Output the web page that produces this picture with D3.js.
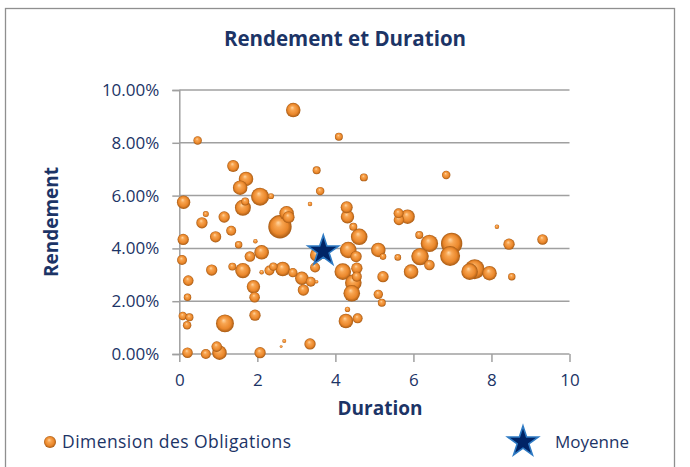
<!DOCTYPE html>
<html>
<head>
<meta charset="utf-8">
<script src="https://cdn.jsdelivr.net/npm/d3@7"></script>
<style>
  body { margin: 0; background: #fff; }
  text { font-family: "Open Sans", "Noto Sans", sans-serif; fill: #1c3466; }
</style>
</head>
<body>
<div id="chart"></div>
<script>
// --- Data ---
// duration (years), rendement (%), taille (bubble size, area-proportional)
const durations = [
  2.92, 0.47, 1.38, 1.71, 1.56, 2.07, 2.35, 0.11, 1.63, 1.69,
  0.68, 1.15, 2.75, 2.80, 0.58, 2.58, 1.33, 0.93, 0.10, 1.52,
  1.95, 2.11, 1.81, 0.07, 0.83, 1.36, 1.63, 2.11, 2.31, 2.41,
  2.65, 2.91, 3.14, 3.18, 1.90, 1.93, 0.23, 0.21, 0.09, 0.26,
  0.20, 1.17, 1.94, 2.69, 2.61, 3.35, 0.21, 0.68, 0.96, 1.03,
  2.07, 4.09, 3.52, 4.73, 3.61, 3.35, 4.29, 4.31, 5.62, 5.85,
  5.63, 4.46, 4.61, 6.15, 6.41, 3.52, 4.33, 4.53, 5.10, 5.22,
  5.60, 6.17, 6.41, 3.48, 4.19, 4.55, 4.55, 5.94, 3.37, 3.52,
  4.46, 4.42, 5.22, 5.10, 5.19, 4.31, 4.27, 4.57, 6.98, 6.94,
  8.14, 8.45, 9.31, 7.44, 7.57, 7.95, 8.52, 6.84
];
const rendements = [
  9.24, 8.09, 7.12, 6.63, 6.30, 5.96, 5.98, 5.75, 5.54, 5.78,
  5.30, 5.19, 5.33, 5.18, 4.97, 4.82, 4.67, 4.44, 4.34, 4.14,
  4.27, 3.85, 3.69, 3.56, 3.18, 3.31, 3.16, 3.10, 3.16, 3.31,
  3.22, 3.08, 2.87, 2.42, 2.55, 2.15, 2.78, 2.15, 1.44, 1.39,
  1.09, 1.16, 1.47, 0.49, 0.28, 0.38, 0.05, 0.00, 0.28, 0.05,
  0.05, 8.23, 6.96, 6.69, 6.17, 5.68, 5.56, 5.20, 5.33, 5.20,
  5.08, 4.82, 4.44, 4.51, 4.19, 3.75, 3.94, 3.69, 3.94, 3.69,
  3.66, 3.69, 3.37, 3.28, 3.12, 3.25, 2.93, 3.12, 2.74, 2.74,
  2.70, 2.30, 2.93, 2.26, 1.94, 1.69, 1.25, 1.35, 4.19, 3.71,
  4.82, 4.16, 4.34, 3.12, 3.21, 3.06, 2.93, 6.78
];
const tailles = [
  53, 18, 36, 53, 53, 81, 9, 45, 64, 16,
  9, 32, 53, 36, 32, 137, 25, 32, 32, 14,
  5, 53, 28, 25, 32, 16, 59, 5, 25, 18,
  53, 22, 45, 32, 45, 28, 28, 14, 18, 16,
  18, 81, 32, 4, 2, 32, 28, 25, 28, 53,
  32, 16, 16, 16, 18, 5, 36, 45, 25, 53,
  28, 16, 69, 16, 76, 45, 69, 32, 53, 11,
  11, 76, 28, 25, 69, 32, 25, 53, 25, 3,
  69, 69, 32, 22, 16, 7, 53, 25, 114, 100,
  5, 32, 28, 69, 100, 53, 14, 18
];

// Average point (Moyenne)
const moyenne = { duration: 3.69, rendement: 3.90 };

const xTicks = [0, 2, 4, 6, 8, 10];
const yTicks = [0, 2, 4, 6, 8, 10];

const bonds = durations.map((d, i) => ({
  duration: d,
  rendement: rendements[i],
  taille: tailles[i]
}));

// --- SVG setup ---
const W = 690, H = 467;
const plot = { left: 179.3, right: 569.5, top: 90, bottom: 354 };

const svg = d3.select("#chart")
  .append("svg")
  .attr("width", W)
  .attr("height", H);

svg.append("rect")
  .attr("x", 5.5).attr("y", 8.5)
  .attr("width", 669).attr("height", 480)
  .attr("fill", "#fff")
  .attr("stroke", "#8f8f8f")
  .attr("stroke-width", 1.3);

// Sphere-like gradient for the bubbles
const defs = svg.append("defs");
const grad = defs.append("radialGradient")
  .attr("id", "sphere")
  .attr("cx", "50%").attr("cy", "50%").attr("r", "50%")
  .attr("fx", "42%").attr("fy", "32%");
grad.append("stop").attr("offset", "0%").attr("stop-color", "#ffd6a3");
grad.append("stop").attr("offset", "30%").attr("stop-color", "#f8a551");
grad.append("stop").attr("offset", "72%").attr("stop-color", "#ea872b");
grad.append("stop").attr("offset", "100%").attr("stop-color", "#a65a14");

// --- Scales ---
const xScale = d3.scaleLinear().domain([0, 10]).range([plot.left, plot.right]);
const yScale = d3.scaleLinear().domain([0, 10]).range([plot.bottom, plot.top]);
const rScale = d3.scaleSqrt().domain([0, 140]).range([0, 11.8]);

// --- Gridlines + y axis ---
const yAxis = d3.axisLeft(yScale)
  .tickValues(yTicks)
  .tickSize(7)
  .tickPadding(13)
  .tickFormat(d => d.toFixed(2) + "%");

const yG = svg.append("g")
  .attr("transform", `translate(${plot.left},0)`)
  .call(yAxis);
yG.select(".domain").attr("stroke", "#a0a0a0").attr("stroke-width", 1.5);
yG.selectAll(".tick line").attr("stroke", "#a0a0a0").attr("stroke-width", 1.5);
yG.selectAll(".tick text")
  .style("font-size", "17px")
  .attr("fill", "#1c3466");

svg.append("g")
  .selectAll("line")
  .data(yTicks)
  .join("line")
  .attr("x1", plot.left)
  .attr("x2", plot.right)
  .attr("y1", d => yScale(d))
  .attr("y2", d => yScale(d))
  .attr("stroke", "#a0a0a0")
  .attr("stroke-width", 1.5);

// --- x axis ---
const xAxis = d3.axisBottom(xScale)
  .tickValues(xTicks)
  .tickSize(8)
  .tickPadding(12)
  .tickFormat(d3.format("d"));

const xG = svg.append("g")
  .attr("transform", `translate(0,${plot.bottom})`)
  .call(xAxis);
xG.select(".domain").remove();
xG.selectAll(".tick line").attr("stroke", "#a0a0a0").attr("stroke-width", 1.5);
xG.selectAll(".tick text")
  .style("font-size", "17px")
  .attr("fill", "#1c3466");

// --- Bubbles (largest first so small ones stay visible) ---
const sorted = bonds.slice().sort((a, b) => b.taille - a.taille);

svg.append("g")
  .selectAll("circle")
  .data(sorted)
  .join("circle")
  .attr("cx", d => xScale(d.duration))
  .attr("cy", d => yScale(d.rendement))
  .attr("r", d => rScale(d.taille))
  .attr("fill", "url(#sphere)");

// --- Average star ---
const star = d3.symbol().type(d3.symbolStar).size(290);

svg.append("path")
  .attr("d", star())
  .attr("transform", `translate(${xScale(moyenne.duration)},${yScale(moyenne.rendement)})`)
  .attr("fill", "#002466")
  .attr("stroke", "#2f7bc4")
  .attr("stroke-width", 1.6);

// --- Titles ---
svg.append("text")
  .attr("x", 345).attr("y", 46)
  .attr("text-anchor", "middle")
  .style("font-size", "20.5px")
  .style("font-weight", "bold")
  .text("Rendement et Duration");

svg.append("text")
  .attr("transform", "translate(58,222) rotate(-90)")
  .attr("text-anchor", "middle")
  .style("font-size", "19px")
  .style("font-weight", "bold")
  .text("Rendement");

svg.append("text")
  .attr("x", 380).attr("y", 415)
  .attr("text-anchor", "middle")
  .style("font-size", "19px")
  .style("font-weight", "bold")
  .text("Duration");

// --- Legend ---
svg.append("circle")
  .attr("cx", 50).attr("cy", 442)
  .attr("r", 6)
  .attr("fill", "url(#sphere)");

svg.append("text")
  .attr("x", 62).attr("y", 448)
  .style("font-size", "17.5px")
  .attr("textLength", 229)
  .attr("lengthAdjust", "spacing")
  .text("Dimension des Obligations");

svg.append("path")
  .attr("d", star())
  .attr("transform", "translate(523,442)")
  .attr("fill", "#002466")
  .attr("stroke", "#2f7bc4")
  .attr("stroke-width", 1.6);

svg.append("text")
  .attr("x", 555).attr("y", 448)
  .style("font-size", "17px")
  .text("Moyenne");
</script>
</body>
</html>
